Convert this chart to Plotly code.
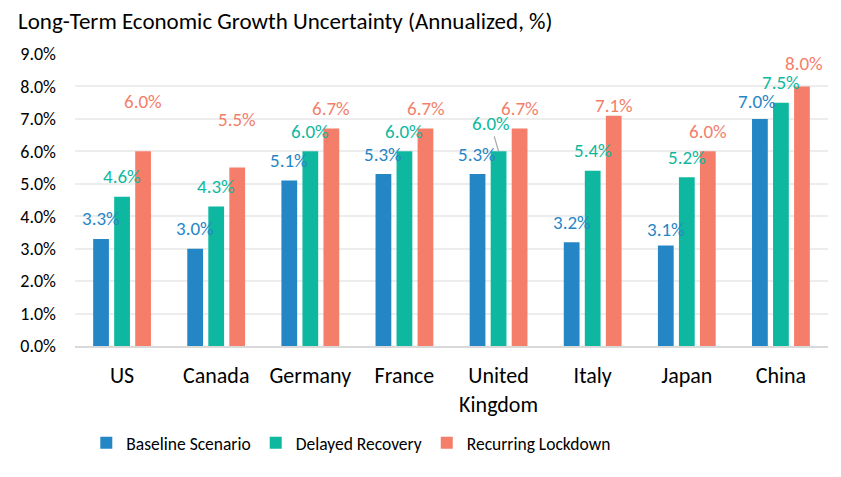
import plotly.graph_objects as go

categories = ["US", "Canada", "Germany", "France", "United<br>Kingdom", "Italy", "Japan", "China"]
baseline = [3.3, 3.0, 5.1, 5.3, 5.3, 3.2, 3.1, 7.0]
delayed = [4.6, 4.3, 6.0, 6.0, 6.0, 5.4, 5.2, 7.5]
recurring = [6.0, 5.5, 6.7, 6.7, 6.7, 7.1, 6.0, 8.0]
series_names = ["Baseline Scenario", "Delayed Recovery", "Recurring Lockdown"]
colors = ["#2586C6", "#0EB8A0", "#F47E69"]

# manual label nudges (pixels): (series index, category index) -> (dx, dy)
nudges = {(2, 0): (0, 30), (2, 1): (0, 28), (2, 5): (0, -10), (0, 6): (0, -4),
          (0, 7): (-3, -3), (1, 7): (0, 0), (2, 7): (2, 3)}
leader = {(1, 4): (-8, -28)}

FONT = "Carlito, Calibri, Lato, sans-serif"
W, H = 841, 477
ML, MR, MT, MB = 65, 21, 46, 139
BARGAP = 0.33
plot_w = W - ML - MR
slot = plot_w / len(categories) * (1 - BARGAP) / 3

fig = go.Figure()
all_series = [baseline, delayed, recurring]
for name, vals, col in zip(series_names, all_series, colors):
    fig.add_trace(go.Bar(x=categories, y=vals, name=name, marker=dict(color=col, line_width=0)))

annotations = []
for si, vals in enumerate(all_series):
    for ci, v in enumerate(vals):
        label = f"{v:.1f}%"
        dx, dy = nudges.get((si, ci), (0, 0))
        if (si, ci) in leader:
            ax, ay = leader[(si, ci)]
            annotations.append(dict(x=categories[ci], y=v, xref="x", yref="y", text=label,
                                    xshift=(si - 1) * slot, yshift=0, showarrow=True,
                                    arrowhead=0, arrowwidth=1.2, arrowcolor="#A6A6A6",
                                    ax=ax, ay=ay, standoff=0,
                                    font=dict(family=FONT, size=19, color=colors[si])))
        else:
            annotations.append(dict(x=categories[ci], y=v, xref="x", yref="y", text=label,
                                    xshift=(si - 1) * slot + dx, yshift=20 + dy, showarrow=False,
                                    yanchor="middle",
                                    font=dict(family=FONT, size=19, color=colors[si])))

fig.update_layout(
    width=W, height=H,
    margin=dict(l=ML, r=MR, t=MT, b=MB),
    paper_bgcolor="white", plot_bgcolor="white",
    barmode="group", bargap=BARGAP, bargroupgap=0.25,
    title=dict(text="Long-Term Economic Growth Uncertainty (Annualized, %)",
               x=10 / W, xanchor="left", y=1 - 5 / H, yanchor="top",
               font=dict(family=FONT, size=23, color="#000000")),
    font=dict(family=FONT, color="#000000"),
    xaxis=dict(showline=True, linecolor="#D9D9D9", linewidth=2, ticks="",
               tickfont=dict(family=FONT, size=22, color="#000000"),
               ticklabelstandoff=9),
    yaxis=dict(range=[0, 9.0], dtick=1, tickformat=".1f", ticksuffix="%",
               showgrid=True, gridcolor="#EDEDED", gridwidth=1.5, zeroline=False,
               ticks="", tickfont=dict(family=FONT, size=18, color="#000000"),
               ticklabelstandoff=18),
    legend=dict(orientation="h", x=0.015, xanchor="left", y=-0.332, yanchor="middle",
                font=dict(family=FONT, size=17.5, color="#000000"), itemwidth=30,
                traceorder="normal"),
    annotations=annotations,
)

fig.write_html("out.html")
